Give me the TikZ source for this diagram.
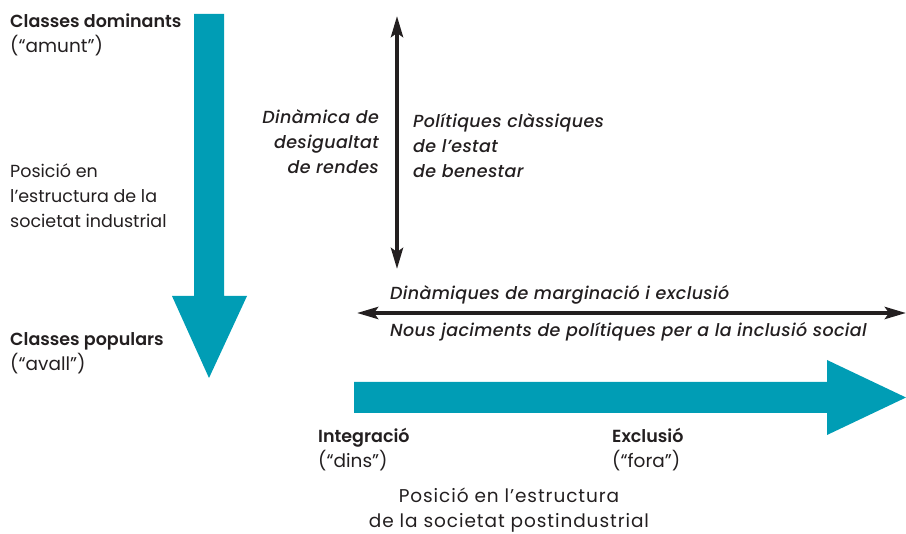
\documentclass[tikz,border=0pt]{standalone}
\usepackage{fontspec}
\setmainfont{Poppins}[BoldFont={Poppins SemiBold}]
\newfontfamily\semiit{Poppins Medium Italic}[LetterSpace=2]
\usetikzlibrary{arrows.meta}
\definecolor{blaumar}{RGB}{0,157,181}
\definecolor{tinta}{RGB}{35,31,32}
\newcommand{\mida}{\fontsize{18.5}{25}\selectfont}
\newcommand{\negreta}[1]{{\fontsize{17.5}{25}\selectfont\bfseries #1}}
\tikzset{
>={Stealth[length=21pt,width=12pt,inset=4pt]},
eix/.style={fill=blaumar,draw=none},
fletxa/.style={<->,line width=4pt,color=tinta},
rotul/.style={inner sep=0pt,text=tinta},
rotulit/.style={rotul,font=\fontsize{17.5}{25}\selectfont\semiit}}

\begin{document}
\begin{tikzpicture}[x=1pt,y=-1pt,font=\mida]
\useasboundingbox (0,0) rectangle (906,534);

% fletxes gruixudes
\fill[eix] (194,14) -- (224,14) -- (224,296) -- (247,296) -- (209,378)
  -- (172,296) -- (194,296) -- cycle;
\fill[eix] (354,382) -- (827,382) -- (827,360) -- (906,397.5)
  -- (827,435) -- (827,413) -- (354,413) -- cycle;

% rotols de l'eix vertical
\node[rotul,anchor=west,align=left] (dom) at (10,35)
  {\negreta{Classes dominants}\\(“amunt”)};
\node[rotul,anchor=west,align=left,font=\fontsize{17.5}{25}\selectfont] (posind) at (10,196)
  {Posició en\\l’estructura de la\\societat industrial};
\node[rotul,anchor=west,align=left] (pop) at (10,353)
  {\negreta{Classes populars}\\(“avall”)};

% fletxa vertical
\coordinate (vdalt) at (397,16);
\coordinate (vbaix) at (397,269);
\path[fletxa] (vdalt) edge (vbaix);

\node[rotulit,anchor=east,align=right] (din) at (379,142)
  {Dinàmica de\\desigualtat\\de rendes};
\node[rotulit,anchor=west,align=left] (pol) at (413,146)
  {Polítiques clàssiques\\de l’estat\\de benestar};

% fletxa horitzontal
\coordinate (hesq) at (357,313);
\coordinate (hdre) at (906,313);
\path[fletxa] (hesq) edge (hdre);

\node[rotulit,anchor=west] (marg) at (390,295)
  {Dinàmiques de marginació i exclusió};
\node[rotulit,anchor=west] (nous) at (390,332)
  {Nous jaciments de polítiques per a la inclusió social};

% rotols de l'eix horitzontal
\node[rotul,anchor=west,align=left] (integ) at (318,450)
  {\negreta{Integració}\\(“dins”)};
\node[rotul,anchor=west,align=left] (excl) at (612,450)
  {\negreta{Exclusió}\\(“fora”)};
\node[rotul,align=center,font=\mida\addfontfeatures{LetterSpace=5}] (pospost) at (509,510)
  {Posició en l’estructura\\de la societat postindustrial};

\end{tikzpicture}
\end{document}
